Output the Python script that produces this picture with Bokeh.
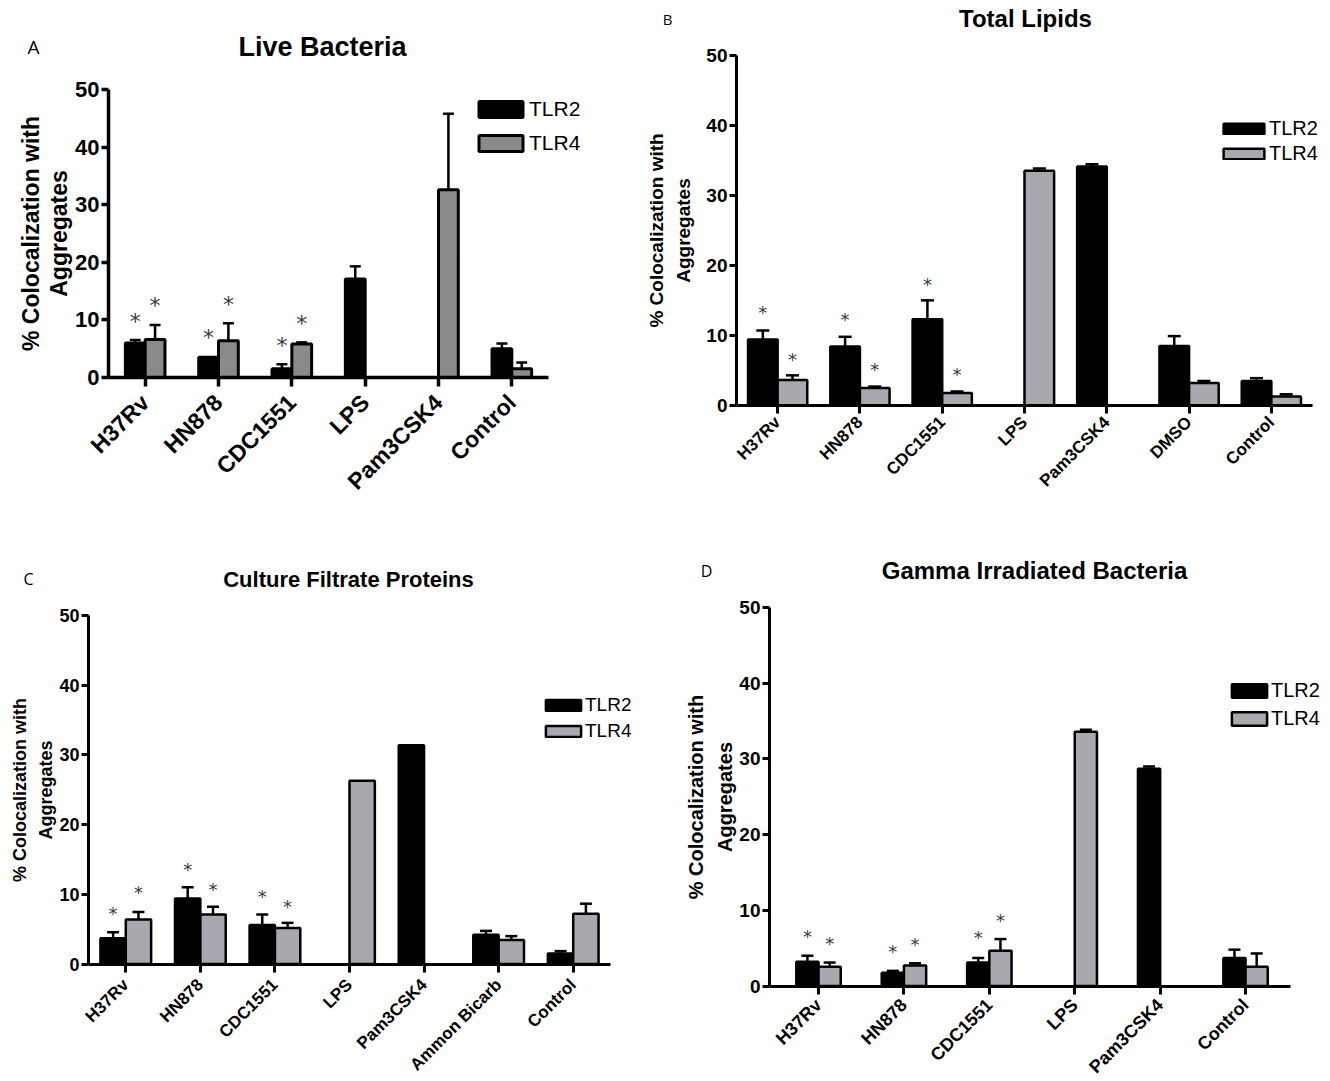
import math
from bokeh.plotting import figure
from bokeh.models import (Range1d, FixedTicker, Legend, LegendItem, Whisker, TeeHead,
                          ColumnDataSource, Label)
from bokeh.layouts import row, column
from bokeh.core.properties import value
from bokeh.embed import file_html
from bokeh.resources import INLINE

FONT = "Liberation Sans"
SERIES = ["TLR2", "TLR4"]
YTICKS = [0, 10, 20, 30, 40, 50]
YLABEL = "% Colocalization with\nAggregates"

# ---------------- Panel A : Live Bacteria ----------------
a_title = "Live Bacteria"
a_cats = ["H37Rv", "HN878", "CDC1551", "LPS", "Pam3CSK4", "Control"]
a_tlr2 = [6.0, 3.5, 1.5, 17.1, None, 5.0]
a_tlr2_err = [0.5, 0.0, 0.8, 2.2, None, 0.9]
a_tlr4 = [6.6, 6.4, 5.8, None, 32.6, 1.5]
a_tlr4_err = [2.5, 3.0, 0.3, None, 13.2, 1.1]
a_star2 = [9.8, 6.9, 5.5, None, None, None]
a_star4 = [12.5, 12.7, 9.3, None, None, None]

# ---------------- Panel B : Total Lipids ----------------
b_title = "Total Lipids"
b_cats = ["H37Rv", "HN878", "CDC1551", "LPS", "Pam3CSK4", "DMSO", "Control"]
b_tlr2 = [9.4, 8.4, 12.3, None, 34.1, 8.5, 3.5]
b_tlr2_err = [1.3, 1.4, 2.7, None, 0.3, 1.4, 0.4]
b_tlr4 = [3.65, 2.5, 1.8, 33.5, None, 3.2, 1.3]
b_tlr4_err = [0.65, 0.2, 0.2, 0.3, None, 0.3, 0.3]
b_star2 = [13.2, 12.3, 17.2, None, None, None, None]
b_star4 = [6.6, 5.2, 4.4, None, None, None, None]

# ---------------- Panel C : Culture Filtrate Proteins ----------------
c_title = "Culture Filtrate Proteins"
c_cats = ["H37Rv", "HN878", "CDC1551", "LPS", "Pam3CSK4", "Ammon Bicarb", "Control"]
c_tlr2 = [3.7, 9.4, 5.6, None, 31.4, 4.2, 1.5]
c_tlr2_err = [0.85, 1.6, 1.5, None, 0.0, 0.55, 0.35]
c_tlr4 = [6.4, 7.1, 5.15, 26.3, None, 3.45, 7.2]
c_tlr4_err = [1.05, 1.1, 0.75, 0.0, None, 0.55, 1.45]
c_star2 = [7.2, 13.5, 9.7, None, None, None, None]
c_star4 = [10.2, 10.7, 8.3, None, None, None, None]

# ---------------- Panel D : Gamma Irradiated Bacteria ----------------
d_title = "Gamma Irradiated Bacteria"
d_cats = ["H37Rv", "HN878", "CDC1551", "LPS", "Pam3CSK4", "Control"]
d_tlr2 = [3.2, 1.75, 3.1, None, 28.7, 3.7]
d_tlr2_err = [0.8, 0.25, 0.6, None, 0.3, 1.1]
d_tlr4 = [2.55, 2.7, 4.65, 33.6, None, 2.55]
d_tlr4_err = [0.55, 0.3, 1.55, 0.25, None, 1.75]
d_star2 = [6.6, 4.6, 6.4, None, None, None]
d_star4 = [5.6, 5.5, 8.7, None, None, None]


def series_sources(vals, errs, stars, offset):
    idx = [i for i, v in enumerate(vals) if v is not None]
    bars = ColumnDataSource(dict(x=[i + offset for i in idx], top=[vals[i] for i in idx]))
    eidx = [i for i in idx if errs[i] and errs[i] > 0]
    errsrc = ColumnDataSource(dict(x=[i + offset for i in eidx],
                                   lo=[vals[i] for i in eidx],
                                   hi=[vals[i] + errs[i] for i in eidx]))
    sidx = [i for i, s in enumerate(stars) if s is not None]
    starsrc = ColumnDataSource(dict(x=[i + offset for i in sidx], y=[stars[i] for i in sidx],
                                    t=["*"] * len(sidx)))
    return bars, errsrc, starsrc


def make_panel(title, letter, cats, t2, e2, t4, e4, s2, s4, c):
    n = len(cats)
    ox, oy, W, H = c["box"]
    ax_left, ax_right, y0_px, y50_px = c["frame"]
    s = (ax_right - ax_left) / (n + c["extra"])          # px per category
    xc0 = ax_left + c["first"] * s                        # page x of first category
    k = (y0_px - y50_px) / 50.0                           # px per y unit

    def X(px):
        return (px - xc0) / s

    def Y(py):
        return (y0_px - py) / k

    p = figure(width=W, height=H, title=None,
               x_range=Range1d(X(ox), X(ox + W)), y_range=Range1d(Y(oy + H), Y(oy)),
               output_backend="svg", toolbar_location=None, min_border=0)
    p.outline_line_color = None
    p.grid.visible = False
    p.background_fill_color = "white"
    p.border_fill_color = "white"

    bw = c["bw"]
    lw = c["lw"]
    out = {}
    for name, vals, errs, stars, off, col in [("TLR2", t2, e2, s2, -bw / 2, "black"),
                                              ("TLR4", t4, e4, s4, bw / 2, c["grey"])]:
        bars, errsrc, starsrc = series_sources(vals, errs, stars, off)
        r = p.vbar(x="x", top="top", bottom=0, width=bw, source=bars,
                   fill_color=col, line_color="black", line_width=lw)
        out[name] = r
        wh = Whisker(source=errsrc, base="x", lower="lo", upper="hi", dimension="height",
                     line_color="black", line_width=c["elw"], lower_head=None,
                     upper_head=TeeHead(size=c["cap"], line_color="black", line_width=c["elw"]))
        p.add_layout(wh)
        p.text(x="x", y="y", text="t", source=starsrc, text_align="center",
               text_baseline="middle", text_font=value("DejaVu Sans"),
               text_font_size=value(c["star_fs"]), text_color="#3a3a3a")

    for ax in (p.xaxis[0], p.yaxis[0]):
        ax.axis_line_width = c["alw"]
        ax.axis_line_color = "black"
        ax.major_tick_line_width = c["alw"]
        ax.major_tick_line_color = "black"
        ax.major_tick_in = 0
        ax.minor_tick_line_color = None
        ax.major_label_text_font = FONT
        ax.major_label_text_font_style = "bold"
        ax.major_label_text_color = "black"

    p.yaxis.fixed_location = X(ax_left)
    p.yaxis.bounds = (0, 50)
    p.yaxis.ticker = FixedTicker(ticks=YTICKS)
    p.yaxis.major_tick_out = c["ytick"]
    p.yaxis.major_label_text_font_size = c["ytick_fs"]
    p.yaxis.major_label_standoff = 2
    p.yaxis.axis_label = YLABEL
    p.yaxis.axis_label_text_font = FONT
    p.yaxis.axis_label_text_font_style = "bold"
    p.yaxis.axis_label_text_font_size = c["ylab_fs"]
    p.yaxis.axis_label_text_line_height = c["ylab_lh"]
    p.yaxis.axis_label_standoff = c["ylab_so"]
    p.yaxis.axis_label_text_color = "black"

    p.xaxis.fixed_location = 0
    p.xaxis.bounds = (X(ax_left), X(ax_right))
    p.xaxis.ticker = FixedTicker(ticks=list(range(n)))
    p.xaxis.major_label_overrides = {i: lab for i, lab in enumerate(cats)}
    p.xaxis.major_label_orientation = math.pi / 4
    p.xaxis.major_tick_out = c["xtick"]
    p.xaxis.major_label_text_font_size = c["xtick_fs"]
    p.xaxis.major_label_standoff = c["xlab_so"]

    lgx, lgy_bottom = c["leg"]
    legend = Legend(items=[LegendItem(label=SERIES[0], renderers=[out["TLR2"]]),
                           LegendItem(label=SERIES[1], renderers=[out["TLR4"]])],
                    location=(lgx - ox, oy + H - lgy_bottom), orientation="vertical",
                    glyph_width=c["gw"], glyph_height=c["gh"], label_height=c["gh"],
                    label_standoff=c["lso"], spacing=c["gsp"], padding=0, margin=0,
                    border_line_color=None, background_fill_alpha=0,
                    label_text_font=FONT, label_text_font_size=c["leg_fs"],
                    label_text_color="black")
    p.add_layout(legend)

    tx, ty = c["title_at"]
    p.add_layout(Label(x=X(tx), y=Y(ty), text=title, text_font=FONT, text_font_style="bold",
                       text_font_size=c["title_fs"], text_align="center",
                       text_baseline="middle", text_color="black"))
    lx, ly = c["letter_at"]
    p.add_layout(Label(x=X(lx), y=Y(ly), text=letter, text_font="Open Sans",
                       text_font_size=c["letter_fs"], text_align="center",
                       text_baseline="middle", text_color="black"))
    return p


# layout geometry (page pixels)
cfgA = dict(box=(0, 0, 640, 540), frame=(108, 548, 377, 89), extra=0, first=0.5,
            title_at=(322, 46), title_fs="27px", letter_at=(33, 46), letter_fs="19px",
            bw=0.27, lw=3, elw=2.5, cap=11, grey="#8a8a8a", star_fs="22px",
            alw=3.5, ytick=7, xtick=9, ytick_fs="22px", ylab_fs="23px", ylab_lh=1.06, ylab_so=0,
            xtick_fs="23px", xlab_so=12, leg=(473, 155), gw=55, gh=20, gsp=10, lso=1,
            leg_fs="21px")
cfgB = dict(box=(640, 0, 688, 540), frame=(736, 1312, 405, 54.5), extra=0, first=0.5,
            title_at=(1025, 18), title_fs="24px", letter_at=(667, 18), letter_fs="15px",
            bw=0.36, lw=2.5, elw=2.5, cap=13, grey="#a8a8ae", star_fs="18px",
            alw=3, ytick=7, xtick=8, ytick_fs="19px", ylab_fs="19px", ylab_lh=1.32, ylab_so=9,
            xtick_fs="17px", xlab_so=6, leg=(1218, 164.5), gw=51, gh=13, gsp=2, lso=0,
            leg_fs="20px")
cfgC = dict(box=(0, 540, 680, 540), frame=(88, 610, 963.5, 615), extra=0, first=0.5,
            title_at=(348, 579), title_fs="22px", letter_at=(28, 578), letter_fs="16px",
            bw=0.34, lw=2.5, elw=2.5, cap=12, grey="#a8a8ae", star_fs="18px",
            alw=3, ytick=7, xtick=8, ytick_fs="18px", ylab_fs="18px", ylab_lh=1.3, ylab_so=0,
            xtick_fs="17px", xlab_so=10, leg=(541, 741.5), gw=44, gh=14, gsp=4, lso=0,
            leg_fs="19px")
cfgD = dict(box=(680, 540, 648, 540), frame=(769, 1290, 985.5, 607), extra=0.1, first=0.574,
            title_at=(1034, 570), title_fs="24px", letter_at=(706, 570), letter_fs="16px",
            bw=0.26, lw=2.5, elw=2.5, cap=12, grey="#a8a8ae", star_fs="18px",
            alw=3, ytick=7, xtick=8, ytick_fs="19px", ylab_fs="20px", ylab_lh=1.35, ylab_so=0,
            xtick_fs="18px", xlab_so=8, leg=(1227, 729.5), gw=44, gh=17, gsp=5, lso=0,
            leg_fs="20px")

pA = make_panel(a_title, "A", a_cats, a_tlr2, a_tlr2_err, a_tlr4, a_tlr4_err, a_star2, a_star4, cfgA)
pB = make_panel(b_title, "B", b_cats, b_tlr2, b_tlr2_err, b_tlr4, b_tlr4_err, b_star2, b_star4, cfgB)
pC = make_panel(c_title, "C", c_cats, c_tlr2, c_tlr2_err, c_tlr4, c_tlr4_err, c_star2, c_star4, cfgC)
pD = make_panel(d_title, "D", d_cats, d_tlr2, d_tlr2_err, d_tlr4, d_tlr4_err, d_star2, d_star4, cfgD)

p = column(row(pA, pB), row(pC, pD))
open("out.html", "w").write(file_html(p, INLINE))
